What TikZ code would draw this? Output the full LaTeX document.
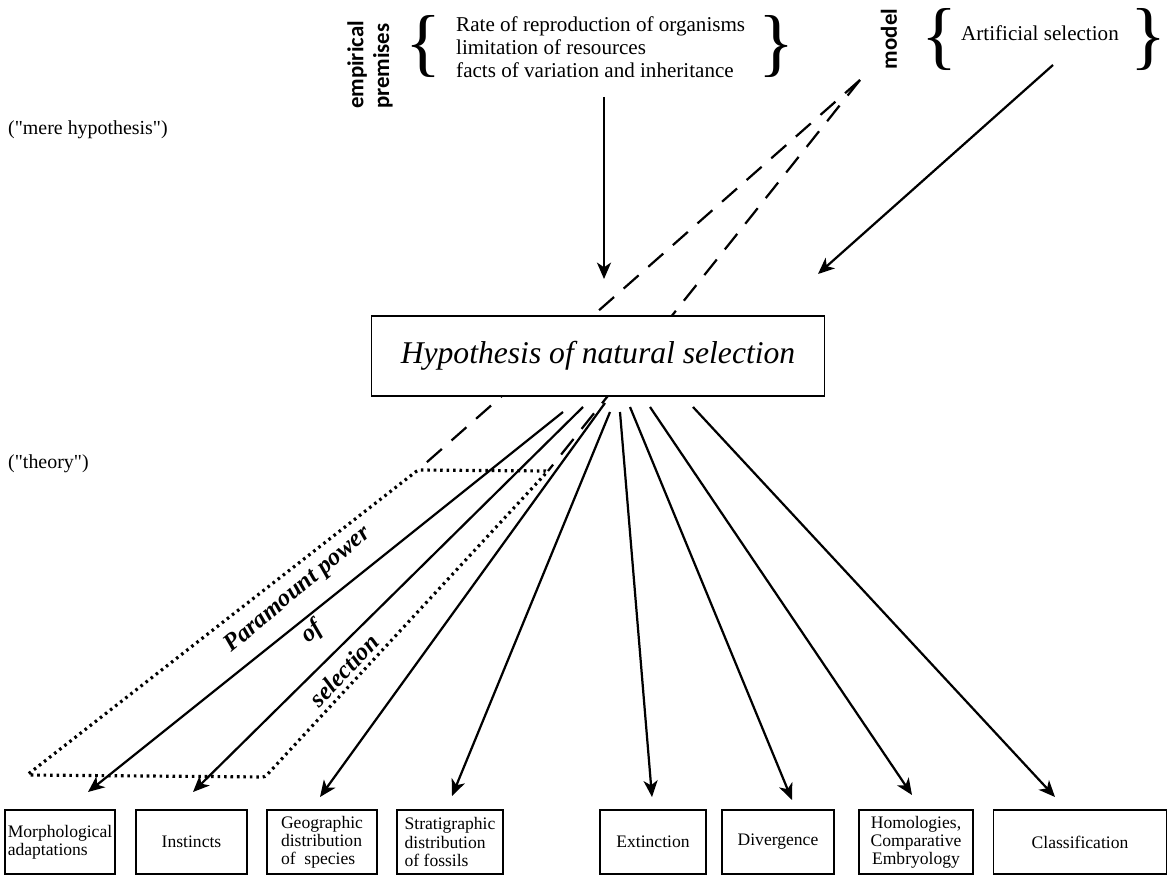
\documentclass[tikz,border=0pt]{standalone}
\usepackage{fontspec}
\setmainfont{Liberation Serif}
\newfontfamily\qfont{Liberation Serif}[Ligatures=TeXOff]
\newfontfamily\sansb{Carlito}
\usepackage{graphicx}
\usetikzlibrary{arrows.meta}
\begin{document}
\begin{tikzpicture}[x=0.03cm,y=-0.03cm,
  arr/.style={line width=1.9pt,-{Stealth[length=14pt,width=12pt,inset=4pt]}},
  dashline/.style={line width=1.9pt,dash pattern=on 17pt off 11pt},
  dotline/.style={line width=2.7pt,dash pattern=on 2.2pt off 3.3pt},
  leaf/.style={draw,line width=1.4pt,minimum height={64*0.03cm},inner sep=2pt,font=\fontsize{15}{15.5}\selectfont},
  brc/.style={inner sep=0pt,font=\fontsize{64}{64}\selectfont},
  prem/.style={inner sep=0pt,anchor=west,align=left,font=\fontsize{18}{19.6}\selectfont},
  side/.style={inner sep=0pt,rotate=90,align=left,font=\sansb\bfseries\fontsize{19.5}{22}\selectfont},
  note/.style={inner sep=0pt,anchor=west,font=\qfont\fontsize{17}{19}\selectfont},
  pp/.style={inner sep=0pt,font=\fontsize{21}{22}\selectfont\bfseries\itshape}
]
\useasboundingbox (0,0) rectangle (1168,875);

% parallelogram corners and dashed apex
\coordinate (pBL) at (27,775);
\coordinate (pTL) at (418,470);
\coordinate (pTR) at (548,471);
\coordinate (pBR) at (265,777);
\coordinate (apex) at (860,80);

\draw[dotline,rounded corners=2pt] (pBL) -- (pTL) -- (pTR) -- (pBR) -- cycle;
\draw[dashline] (apex) -- (pTL);
\draw[dashline] (apex) -- (pTR);

% bottom boxes
\node[leaf,minimum width={110*0.03cm},align=left] (morph) at (60,842) {Morphological\\adaptations};
\node[leaf,minimum width={111*0.03cm}] (inst) at (191.5,842) {Instincts};
\node[leaf,minimum width={110*0.03cm},align=left] (geo) at (322,842) {Geographic\\distribution\\of~~species};
\node[leaf,minimum width={106*0.03cm},align=left] (strat) at (450,842) {Stratigraphic\\distribution\\of fossils};
\node[leaf,minimum width={106*0.03cm}] (ext) at (653,842) {Extinction};
\node[leaf,minimum width={112*0.03cm}] (div) at (778,842) {Divergence};
\node[leaf,minimum width={114*0.03cm},align=center] (hom) at (916,842) {Homologies,\\Comparative\\Embryology};
\node[leaf,minimum width={173*0.03cm}] (cls) at (1080,842) {Classification};

% fan start and tip coordinates
\coordinate (s1) at (563,412); \coordinate (t1) at (88,792);
\coordinate (s2) at (583,407); \coordinate (t2) at (193,792);
\coordinate (s3) at (605,403); \coordinate (t3) at (320,797);
\coordinate (s4) at (610,412); \coordinate (t4) at (452,796);
\coordinate (s5) at (620,412); \coordinate (t5) at (652,797);
\coordinate (s6) at (630,407); \coordinate (t6) at (792,800);
\coordinate (s7) at (650,407); \coordinate (t7) at (912,795);
\coordinate (s8) at (693,407); \coordinate (t8) at (1055,797);
\foreach \i in {1,...,8} {\draw[arr] (s\i) -- (t\i);}

% main box
\node[draw,fill=white,line width=1.3pt,minimum width={453*0.03cm},minimum height={80*0.03cm},
  font=\fontsize{27}{30}\selectfont\itshape] (hyp) at (598,356) {Hypothesis of natural selection};

% top left group
\node[side] (emp) at (370,65) {empirical\\premises};
\node[brc] (lb1) at (423,47) {\{};
\node[prem] (premtxt) at (456,47) {Rate of reproduction of organisms\\limitation of resources\\facts of variation and inheritance};
\node[brc] (rb1) at (776,47) {\}};
\coordinate (a1s) at (604,97);
\coordinate (a1e) at (604,279);
\draw[arr] (a1s) -- (a1e);

% top right group
\node[side] (mod) at (889,39) {model};
\node[brc] (lb2) at (939,40) {\{};
\node[prem] (art) at (961,33) {Artificial selection};
\node[brc] (rb2) at (1148,40) {\}};
\coordinate (a2s) at (1053,65);
\coordinate (a2e) at (818,274);
\draw[arr] (a2s) -- (a2e);

% side notes
\node[note] (mere) at (8,130) {("mere hypothesis")};
\node[note] (theo) at (8,464) {("theory")};

% paramount power of selection
\node[pp,rotate=40] (ppw) at (298,590) {Paramount power};
\node[pp,rotate=40] (pof) at (312,632) {of};
\node[pp,rotate=47] (psel) at (344,670) {selection};
\end{tikzpicture}
\end{document}
